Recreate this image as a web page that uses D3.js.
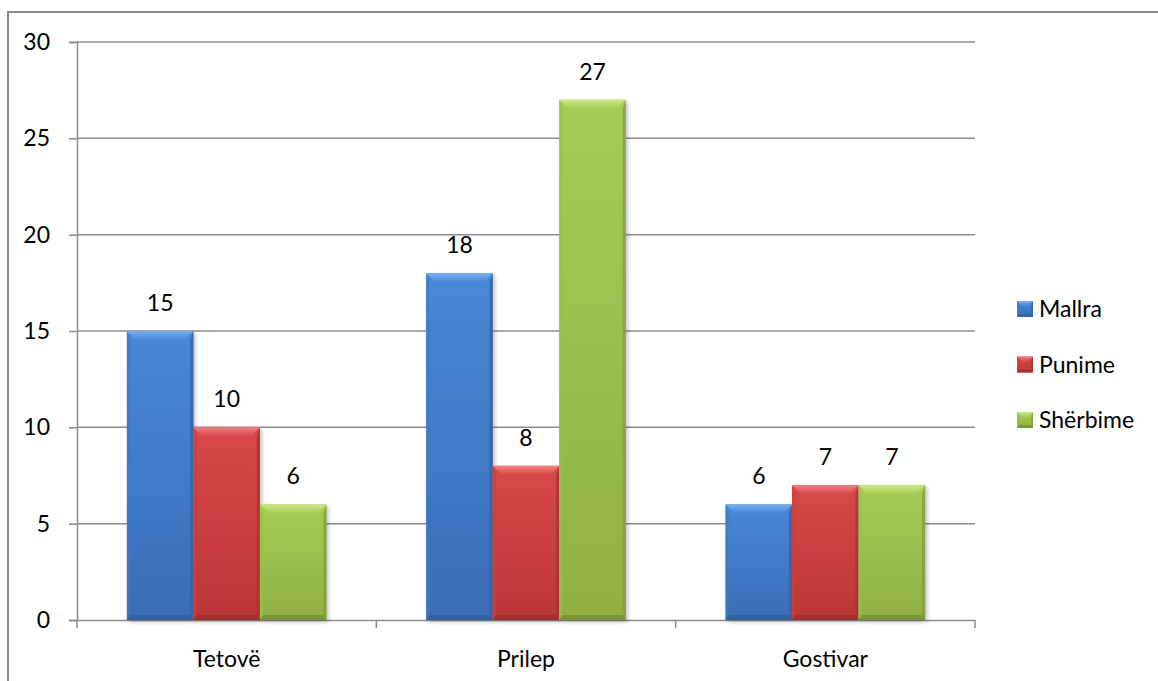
<!DOCTYPE html>
<html>
<head>
<meta charset="utf-8">
<script src="https://cdn.jsdelivr.net/npm/d3@7"></script>
<style>
  html, body { margin: 0; padding: 0; background: #fff; }
  svg { display: block; }
  text { font-family: Lato, "Open Sans", "Noto Sans", sans-serif; fill: #000; }
</style>
</head>
<body>
<svg id="chart" width="1158" height="681"></svg>
<script>
// Categories, series and tick values
const categories = ["Tetovë", "Prilep", "Gostivar"];
const seriesNames = ["Mallra", "Punime", "Shërbime"];
const mallra = [15, 18, 6];
const punime = [10, 8, 7];
const sherbime = [6, 27, 7];
const yTickValues = [0, 5, 10, 15, 20, 25, 30];

const seriesValues = [mallra, punime, sherbime];

// Face colours per series: gradient top/bottom, bevel highlight, sides, bottom edge
const palette = [
  { top: "#4888d8", bottom: "#3a6db5", bevelTop: "#78b0ee", side: "#3f78c4", sideR: "#33629f", edge: "#305e99" },
  { top: "#d84848", bottom: "#bc3636", bevelTop: "#f08282", side: "#c83e3e", sideR: "#a83030", edge: "#9e2d2d" },
  { top: "#a6cc56", bottom: "#8eb142", bevelTop: "#cbe887", side: "#9abd4a", sideR: "#809f39", edge: "#768f34" }
];

const svg = d3.select("#chart");
const W = 1158, H = 681;
const plot = { left: 77, right: 975, top: 42, bottom: 620 };

// Outer chart frame (open to the right and bottom edge of the page)
svg.append("rect")
  .attr("x", 8).attr("y", 12)
  .attr("width", W + 10).attr("height", H + 10)
  .attr("fill", "none").attr("stroke", "#8a8a8a").attr("stroke-width", 2);

const defs = svg.append("defs");
palette.forEach((p, i) => {
  const g = defs.append("linearGradient").attr("id", "grad" + i)
    .attr("x1", 0).attr("y1", 0).attr("x2", 0).attr("y2", 1);
  g.append("stop").attr("offset", "0%").attr("stop-color", p.top);
  g.append("stop").attr("offset", "100%").attr("stop-color", p.bottom);
  const t = defs.append("linearGradient").attr("id", "bev" + i)
    .attr("x1", 0).attr("y1", 0).attr("x2", 0).attr("y2", 1);
  t.append("stop").attr("offset", "0%").attr("stop-color", p.bevelTop);
  t.append("stop").attr("offset", "100%").attr("stop-color", p.top);
});
const shadow = defs.append("filter").attr("id", "shadow")
  .attr("x", "-20%").attr("y", "-5%").attr("width", "140%").attr("height", "115%");
shadow.append("feGaussianBlur").attr("stdDeviation", 2);

// Scales
const x = d3.scaleBand().domain(categories).range([plot.left, plot.right]).paddingInner(0).paddingOuter(0);
const gapRatio = 1.5; // gap between groups relative to one bar width
const barW = x.bandwidth() / (seriesNames.length + gapRatio);
const xs = d3.scaleBand().domain(seriesNames)
  .range([barW * gapRatio / 2, x.bandwidth() - barW * gapRatio / 2]).padding(0);
const y = d3.scaleLinear().domain([0, 30]).range([plot.bottom, plot.top]);

// Horizontal gridlines
svg.append("g").selectAll("line").data(yTickValues.filter(v => v > 0)).join("line")
  .attr("x1", plot.left).attr("x2", plot.right)
  .attr("y1", d => y(d)).attr("y2", d => y(d))
  .attr("stroke", "#8c8c8c").attr("stroke-width", 1.5);

// Y axis
const yAxis = svg.append("g").attr("transform", `translate(${plot.left},0)`)
  .call(d3.axisLeft(y).tickValues(yTickValues).tickSize(8).tickPadding(19).tickFormat(d3.format("d")));
yAxis.select(".domain").attr("stroke", "#8c8c8c").attr("stroke-width", 1.5);
yAxis.selectAll(".tick line").attr("stroke", "#8c8c8c").attr("stroke-width", 1.5);
yAxis.selectAll("text").style("font-size", "23px").attr("fill", "#000");

// X axis
const xAxis = svg.append("g").attr("transform", `translate(0,${plot.bottom})`)
  .call(d3.axisBottom(x).tickSize(0).tickPadding(31));
xAxis.select(".domain").attr("stroke", "#8c8c8c").attr("stroke-width", 1.5);
xAxis.selectAll("text").style("font-size", "23px").attr("fill", "#000");
const boundaries = categories.map(c => x(c)).concat([x(categories[categories.length - 1]) + x.bandwidth()]);
xAxis.selectAll(".bound").data(boundaries).join("line").attr("class", "bound")
  .attr("x1", d => d).attr("x2", d => d).attr("y1", 0).attr("y2", 8)
  .attr("stroke", "#8c8c8c").attr("stroke-width", 1.5);

// Bars with bevelled faces
const bars = [];
categories.forEach((c, ci) => {
  seriesNames.forEach((s, si) => {
    bars.push({ cat: c, series: s, si, value: seriesValues[si][ci] });
  });
});

function bevel(g, x0, x1, y0, y1, p, si, b) {
  const h = y1 - y0;
  const bb = Math.min(b, h / 2, (x1 - x0) / 2);
  g.append("rect").attr("x", x0).attr("y", y0).attr("width", x1 - x0).attr("height", h)
    .attr("fill", `url(#grad${si})`);
  const poly = (pts, fill, op) => g.append("polygon")
    .attr("points", pts.map(q => q.join(",")).join(" ")).attr("fill", fill).attr("opacity", op);
  const s = bb * 0.35, e = bb * 0.55;
  poly([[x0, y0], [x0 + s, y0 + bb], [x0 + s, y1 - e], [x0, y1]], p.side, 0.7);
  poly([[x1, y0], [x1 - s, y0 + bb], [x1 - s, y1 - e], [x1, y1]], p.sideR, 0.75);
  poly([[x0, y1], [x1, y1], [x1 - s, y1 - e], [x0 + s, y1 - e]], p.edge, 0.8);
  poly([[x0, y0], [x1, y0], [x1 - bb, y0 + bb], [x0 + bb, y0 + bb]], `url(#bev${si})`, 1);
}

const barG = svg.append("g");
// soft shadows first
barG.selectAll("rect.sh").data(bars).join("rect").attr("class", "sh")
  .attr("x", d => x(d.cat) + xs(d.series) + 2)
  .attr("y", d => y(d.value) + 2)
  .attr("width", xs.bandwidth())
  .attr("height", d => y(0) - y(d.value))
  .attr("fill", "#000").attr("opacity", 0.25).attr("filter", "url(#shadow)");

bars.forEach(d => {
  const x0 = x(d.cat) + xs(d.series);
  const x1 = x0 + xs.bandwidth();
  bevel(barG.append("g"), x0, x1, y(d.value), y(0), palette[d.si], d.si, 9);
});

// Value labels
svg.append("g").selectAll("text").data(bars).join("text")
  .attr("x", d => x(d.cat) + xs(d.series) + xs.bandwidth() / 2)
  .attr("y", d => y(d.value) - 20)
  .attr("text-anchor", "middle")
  .style("font-size", "23px")
  .text(d => d.value);

// Legend
const legend = svg.append("g").attr("transform", "translate(1017,309)");
seriesNames.forEach((s, i) => {
  const g = legend.append("g").attr("transform", `translate(0,${i * 55.5})`);
  bevel(g, 0, 16, -8, 8, palette[i], i, 5);
  g.append("text").attr("x", 22).attr("y", 0).attr("dy", "0.35em")
    .style("font-size", "23px").text(s);
});
</script>
</body>
</html>
